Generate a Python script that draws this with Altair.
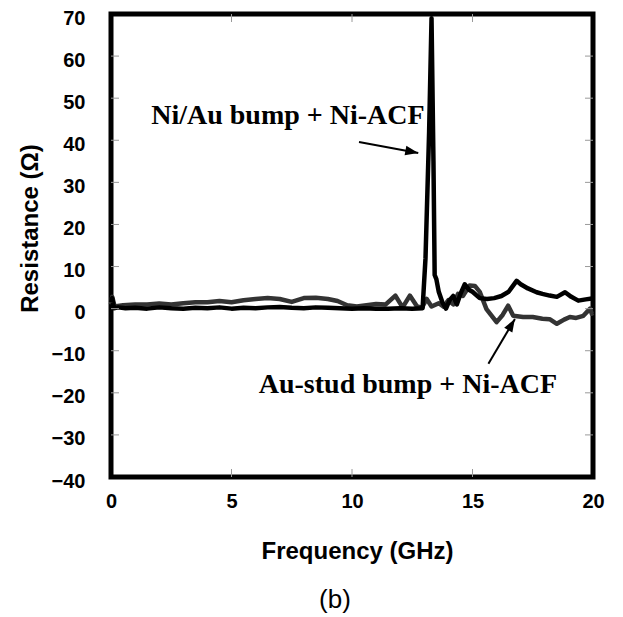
import altair as alt
import pandas as pd

# ---- data ----
ni_au_x = [0, 0.05, 0.12, 0.3, 0.6, 1.0, 1.5, 2.0, 2.5, 3.0, 3.5, 4.0, 4.5, 5.0, 5.5,
           6.0, 6.5, 7.0, 7.5, 8.0, 8.5, 9.0, 9.5, 10.0, 10.5, 11.0, 11.5, 12.0, 12.5,
           12.93, 13.05, 13.2, 13.3, 13.38, 13.43, 13.5, 13.6, 13.75, 13.9,
           14.05, 14.2, 14.35, 14.5, 14.68, 14.85, 15.0,
           15.3, 15.6, 15.9, 16.2, 16.5, 16.83, 17.0, 17.3, 17.66, 17.9,
           18.2, 18.5, 18.84, 19.1, 19.39, 19.7, 19.95, 20.0]
ni_au_y = [1.5, 2.5, 0.1, 0.3, 0.1,
           0.2, 0.0, 0.3, 0.1, 0.0, 0.2, 0.1, 0.3, 0.0, 0.2, 0.1, 0.3, 0.4, 0.2,
           0.1, 0.3, 0.2, 0.1, 0.0, 0.1, 0.0, 0.0, 0.1, 0.0,
           0.1, 12, 42, 69, 35, 8, 7, 4, 1.5, 0,
           2, 3, 1, 3.5, 5.8, 4.5, 4.0,
           2.5, 2.3, 2.5, 3.0, 4.0, 6.6, 5.8, 4.8, 3.9, 3.5,
           3.1, 2.8, 3.9, 2.8, 1.9, 2.2, 2.4, 2.5]

au_x = [0, 0.05, 0.15, 0.5, 1.0, 1.5, 2.0, 2.5, 3.0, 3.5, 4.0, 4.5, 5.0, 5.5, 6.0,
        6.5, 7.0, 7.5, 8.0, 8.5, 9.0, 9.4, 9.8, 10.2, 10.6, 11.0, 11.4, 11.8,
        12.1, 12.4, 12.7, 12.9, 13.1, 13.3, 13.6, 13.8, 14.0, 14.2, 14.4, 14.6, 14.88,
        15.1, 15.3, 15.58, 16.0, 16.25, 16.48, 16.69, 17.1, 17.5, 17.9,
        18.2, 18.5, 18.8, 19.04, 19.3, 19.6, 19.88, 19.95, 20.0]
au_y = [1.0, 2.8, 0.5, 0.8, 1.0, 1.0, 1.2, 1.0, 1.3, 1.5, 1.5, 1.8, 1.5, 2.0, 2.3,
        2.5, 2.3, 1.6, 2.5, 2.6, 2.3, 1.8, 0.8, 0.5, 0.8, 1.1, 1.0, 3.1,
        0.3, 3.1, 0.5, 0.2, 2.3, 0.5, 1.3, 0.5, 2.0, 1.0, 3.5, 3.0, 5.5,
        5.4, 4.0, -0.1, -3.2, -1.5, 0.7, -1.7, -2.0, -2.0, -2.4,
        -2.5, -3.6, -2.6, -2.0, -2.2, -1.7, 0.0, -1.2, -1.0]

series_names = ["Ni/Au bump + Ni-ACF", "Au-stud bump + Ni-ACF"]
series_colors = ["#000000", "#333333"]

x_label_values = [0, 5, 10, 15, 20]
y_label_values = [-40, -30, -20, -10, 0, 10, 20, 30, 40, 50, 60, 70]
x_inner_ticks = [5, 10, 15]
y_inner_ticks = [-30, -20, -10, 0, 10, 20, 30, 40, 50, 60]

note_text = ["Ni/Au bump + Ni-ACF", "Au-stud bump + Ni-ACF"]
note_x = [7.34, 12.32]
note_y = [43.8, -20.1]
arrow_x = [10.29, 15.66]
arrow_y = [39.6, -13.1]
arrow_x2 = [12.75, 16.76]
arrow_y2 = [37.0, -2.44]
arrow_angle = [100.5, 30.7]

# ---- tables ----
df_ni = pd.DataFrame({"f": ni_au_x, "r": ni_au_y, "i": range(len(ni_au_x)),
                      "s": series_names[0]})
df_au = pd.DataFrame({"f": au_x, "r": au_y, "i": range(len(au_x)),
                      "s": series_names[1]})
df_notes = pd.DataFrame({"t": note_text, "f": note_x, "r": note_y})
df_arrows = pd.DataFrame({"f": arrow_x, "r": arrow_y, "f2": arrow_x2,
                          "r2": arrow_y2, "a": arrow_angle})
df_xt = pd.DataFrame({"f": x_inner_ticks})
df_yt = pd.DataFrame({"r": y_inner_ticks})
df_cap = pd.DataFrame({"t": ["(b)"]})

W, H = 482, 463
xs = alt.Scale(domain=[0, 20], nice=False, zero=False)
ys = alt.Scale(domain=[-40, 70], nice=False, zero=False)
cscale = alt.Scale(domain=series_names, range=series_colors)

x_axis = alt.Axis(values=x_label_values, title="Frequency (GHz)", domain=False,
                  ticks=False, tickSize=0, grid=False, labelFlush=False,
                  labelFont="Liberation Sans", labelFontWeight="bold",
                  labelFontSize=20, labelColor="black", labelPadding=14,
                  titleFont="Liberation Sans", titleFontWeight="bold",
                  titleFontSize=24, titleColor="black", titleY=81, titleX=246,
                  titleBaseline="alphabetic")
y_axis = alt.Axis(values=y_label_values, title="Resistance (\u03a9)", domain=False,
                  ticks=False, tickSize=0, grid=False, labelFlush=False,
                  labelOverlap=False,
                  labelFont="Liberation Sans", labelFontWeight="bold",
                  labelFontSize=20, labelColor="black", labelPadding=26,
                  labelOffset=4,
                  titleFont="Liberation Sans", titleFontWeight="bold",
                  titleFontSize=24, titleColor="black", titleX=-74, titleY=214,
                  titleBaseline="alphabetic", titleAngle=270)


def X(field):
    return alt.X(field, scale=xs, axis=x_axis, title="Frequency (GHz)")


def Y(field):
    return alt.Y(field, scale=ys, axis=y_axis, title="Resistance (\u03a9)")


line_au = alt.Chart(df_au).mark_line(strokeWidth=4.5, strokeJoin="round").encode(
    x=X("f:Q"), y=Y("r:Q"), order="i:Q",
    color=alt.Color("s:N", scale=cscale, legend=None),
)
line_ni = alt.Chart(df_ni).mark_line(strokeWidth=4.5, strokeJoin="round").encode(
    x=X("f:Q"), y=Y("r:Q"), order="i:Q",
    color=alt.Color("s:N", scale=cscale, legend=None),
)

tick_style = dict(color="#9a9a9a", strokeWidth=1)
yt_left = alt.Chart(df_yt).mark_rule(**tick_style).encode(
    y=Y("r:Q"), x=alt.value(0), x2=alt.value(8))
yt_right = alt.Chart(df_yt).mark_rule(**tick_style).encode(
    y=Y("r:Q"), x=alt.value(W - 8), x2=alt.value(W))
xt_bottom = alt.Chart(df_xt).mark_rule(**tick_style).encode(
    x=X("f:Q"), y=alt.value(H - 8), y2=alt.value(H))
xt_top = alt.Chart(df_xt).mark_rule(**tick_style).encode(
    x=X("f:Q"), y=alt.value(0), y2=alt.value(8))

notes = alt.Chart(df_notes).mark_text(
    font="Liberation Serif", fontWeight="bold", fontSize=28, color="black",
    align="center", baseline="alphabetic").encode(
    x=X("f:Q"), y=Y("r:Q"), text="t:N")

arrows = alt.Chart(df_arrows).mark_rule(color="black", strokeWidth=2).encode(
    x=X("f:Q"), x2="f2:Q", y=Y("r:Q"), y2="r2:Q")

heads = alt.Chart(df_arrows).mark_point(
    shape="M0,0L-0.4,1.1L0.4,1.1Z", filled=True, color="black", opacity=1,
    size=560, strokeWidth=0).encode(
    x=X("f2:Q"), y=Y("r2:Q"), angle=alt.Angle("a:Q", scale=None))

caption = alt.Chart(df_cap).mark_text(
    font="Liberation Sans", fontSize=26, color="black", align="center",
    baseline="middle").encode(x=alt.value(224), y=alt.value(586), text="t:N")

chart = alt.layer(
    line_au, line_ni, yt_left, yt_right, xt_bottom, xt_top,
    notes, arrows, heads, caption
).properties(
    width=W, height=H,
    autosize=alt.AutoSizeParams(type="none"),
    padding={"left": 103, "top": 6, "right": 15, "bottom": 140},
).configure_view(stroke="black", strokeWidth=5)

chart.save("out.html", embed_options={"renderer": "svg", "actions": False})
